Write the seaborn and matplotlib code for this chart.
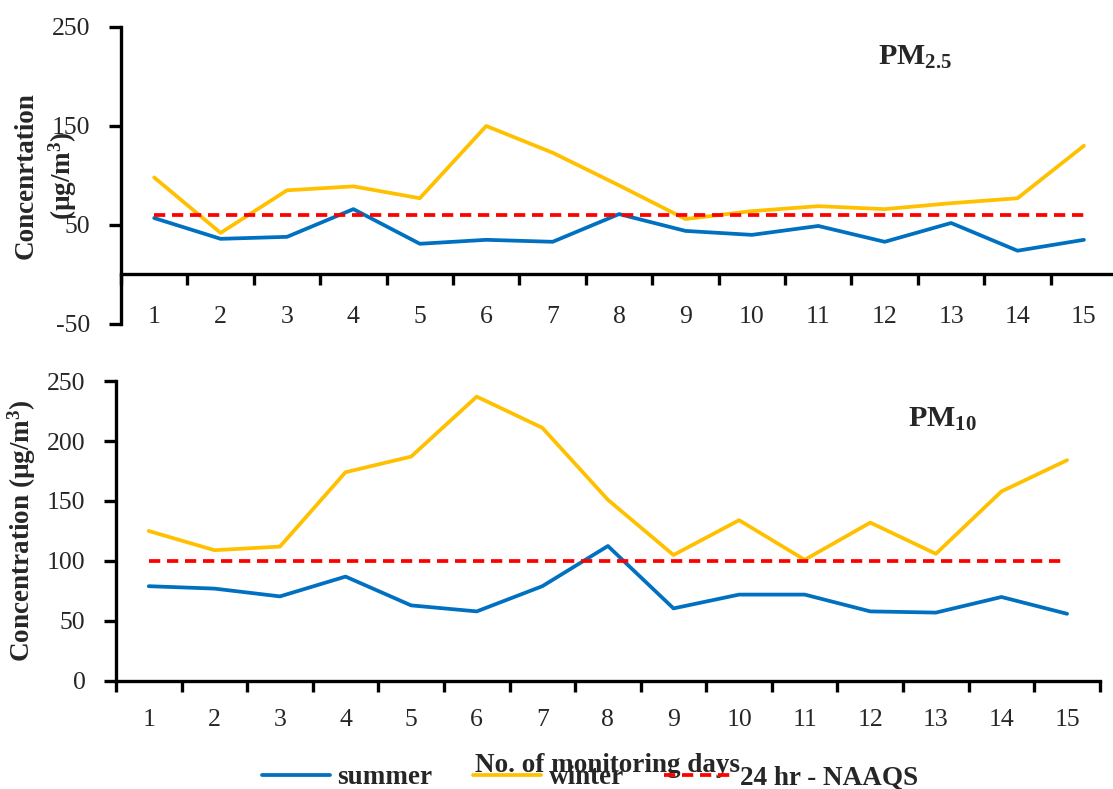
import matplotlib
matplotlib.use("Agg")
import matplotlib.pyplot as plt
from matplotlib.ticker import FixedLocator, NullFormatter
import seaborn as sns
import pandas as pd

# ---- data -------------------------------------------------------------
days = list(range(1, 16))
day_labels = [str(d) for d in days]

pm25_summer = [57, 36, 38, 66, 31, 35, 33, 61, 44, 40, 49, 33, 52, 24, 35]
pm25_winter = [98, 42, 85, 89, 77, 150, 123, 90, 56, 64, 69, 66, 72, 77, 130]
pm25_naaqs = [60, 60, 60, 60, 60, 60, 60, 60, 60, 60, 60, 60, 60, 60, 60]

pm10_summer = [79, 77, 70.5, 87, 63, 58, 79, 112.5, 60.5, 72, 72, 58, 57, 70, 56]
pm10_winter = [125, 109, 112, 174, 187, 237, 211, 151, 105, 134, 101, 132, 106, 158, 184]
pm10_naaqs = [100, 100, 100, 100, 100, 100, 100, 100, 100, 100, 100, 100, 100, 100, 100]

series_names = ["summer", "winter", "24 hr - NAAQS"]
series_colors = ["#0070C0", "#FFC000", "#FF0000"]

# ---- style -------------------------------------------------------------
sns.set_style("white")
plt.rcParams["font.family"] = ["Liberation Serif", "DejaVu Serif"]
plt.rcParams["mathtext.fontset"] = "custom"
plt.rcParams["mathtext.rm"] = "Liberation Serif"
plt.rcParams["mathtext.bf"] = "Liberation Serif:bold"
plt.rcParams["mathtext.it"] = "Liberation Serif:italic"

TICK_FS = 18.5
LABEL_FS = 19.5
SPINE_W = 2.4


def long_frame(summer, winter, naaqs):
    rows = []
    for name, vals in zip(series_names, [summer, winter, naaqs]):
        for d, v in zip(days, vals):
            rows.append({"day": d, "value": v, "series": name})
    return pd.DataFrame(rows)


def draw_panel(ax, df, ylim, yticks, tick_pad_x, xaxis_at_zero=False):
    sns.lineplot(
        data=df, x="day", y="value", hue="series", style="series",
        hue_order=series_names, style_order=series_names,
        palette=dict(zip(series_names, series_colors)),
        dashes={"summer": "", "winter": "", "24 hr - NAAQS": (3, 1.8)},
        linewidth=2.7, ax=ax, legend=True, sort=False,
    )
    if xaxis_at_zero:
        ax.spines["bottom"].set_position(("data", 0))
    ax.set_xlim(0.5, 15.5)
    ax.set_ylim(*ylim)
    ax.set_yticks(yticks)
    ax.set_yticklabels([str(t) for t in yticks], fontsize=TICK_FS)
    # category labels centred, tick marks between categories
    ax.xaxis.set_major_locator(FixedLocator(days))
    ax.set_xticklabels(day_labels, fontsize=TICK_FS)
    ax.xaxis.set_minor_locator(FixedLocator([d + 0.5 for d in range(0, 16)]))
    ax.xaxis.set_minor_formatter(NullFormatter())
    ax.tick_params(axis="x", which="major", bottom=True, length=0,
                   pad=tick_pad_x)
    ax.tick_params(axis="x", which="minor", bottom=True, length=8,
                   width=SPINE_W, direction="out", color="black")
    ax.tick_params(axis="y", left=True, length=9, width=SPINE_W,
                   direction="out", color="black", pad=13)
    for side in ["top", "right"]:
        ax.spines[side].set_visible(False)
    for side in ["left", "bottom"]:
        ax.spines[side].set_linewidth(SPINE_W)
        ax.spines[side].set_color("black")
    ax.set_xlabel("")
    ax.grid(False)


fig = plt.figure(figsize=(11.13, 7.89), dpi=100)

# ---- PM2.5 panel ---------------------------------------------------------
ax1 = fig.add_axes([0.1087, 0.5894, 0.895, 0.3764])
draw_panel(ax1, long_frame(pm25_summer, pm25_winter, pm25_naaqs),
           (-50, 250), [-50, 50, 150, 250], tick_pad_x=23, xaxis_at_zero=True)
ax1.set_ylabel("Concenrtation\n(µg/m$^\\mathbf{3}$)", fontsize=LABEL_FS,
               fontweight="bold", linespacing=1.35)
ax1.yaxis.set_label_coords(-0.042, 0.5)
ax1.text(0.760, 0.872, r"$\mathbf{PM_{2.5}}$", transform=ax1.transAxes,
         fontsize=21.5, ha="left", va="baseline")
handles, labels = ax1.get_legend_handles_labels()
ax1.get_legend().remove()

# ---- PM10 panel ----------------------------------------------------------
ax2 = fig.add_axes([0.1042, 0.1369, 0.884, 0.3802])
draw_panel(ax2, long_frame(pm10_summer, pm10_winter, pm10_naaqs),
           (0, 250), [0, 50, 100, 150, 200, 250], tick_pad_x=20)
ax2.set_ylabel("Concentration (µg/m$^\\mathbf{3}$)", fontsize=LABEL_FS,
               fontweight="bold")
ax2.yaxis.set_label_coords(-0.079, 0.5)
ax2.text(0.805, 0.847, r"$\mathbf{PM_{10}}$", transform=ax2.transAxes,
         fontsize=21.5, ha="left", va="baseline")
ax2.get_legend().remove()
ax2.set_xlabel("No. of monitoring days", fontsize=LABEL_FS, fontweight="bold")
ax2.xaxis.set_label_coords(0.5, -0.24)

# ---- shared legend -------------------------------------------------------
fig.legend(handles, labels, loc="center", bbox_to_anchor=(0.530, 0.014),
           ncol=3, frameon=False, prop={"weight": "bold", "size": LABEL_FS},
           handlelength=2.5, handletextpad=0.28, columnspacing=1.5,
           borderaxespad=0, borderpad=0)

fig.savefig("out.png", dpi=100)
